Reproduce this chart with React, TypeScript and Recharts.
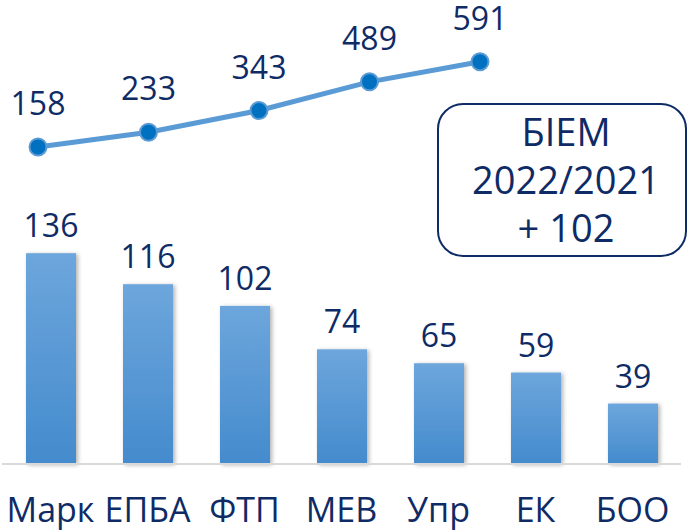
import { BarChart, Bar, XAxis, YAxis, LabelList, LineChart, Line } from 'recharts';

const categories = ['Марк', 'ЕПБА', 'ФТП', 'МЕВ', 'Упр', 'ЕК', 'БОО'];
const barValues = [136, 116, 102, 74, 65, 59, 39];
const lineValues = [158, 233, 343, 489, 591];
const noteLines = ['БІЕМ', '2022/2021', '+ 102'];

const barData = categories.map((name, i) => ({ name, value: barValues[i] }));
const lineData = lineValues.map((value, i) => ({ name: categories[i], value }));

const navy = '#0e2b66';
const font = '"Open Sans", "Noto Sans", sans-serif';

const BarShape = (props: any) => {
  const { x, y, width, height } = props;
  return <rect x={x} y={y} width={width} height={height} fill="url(#barGrad)" filter="url(#barShadow)" />;
};

export default function App() {
  return (
    <div style={{ position: 'absolute', left: 0, top: 0, width: 688, height: 531, background: '#fff', fontFamily: font }}>
      <div style={{ position: 'absolute', left: 0, top: 0 }}>
        <BarChart width={688} height={531} data={barData} margin={{ top: 154, right: 7, bottom: 0, left: 2 }} barSize={50}>
          <defs>
            <linearGradient id="barGrad" x1="0" y1="0" x2="0" y2="1">
              <stop offset="0%" stopColor="#6da6dc" />
              <stop offset="100%" stopColor="#448bcd" />
            </linearGradient>
            <filter id="barShadow" x="-20%" y="-5%" width="140%" height="110%">
              <feDropShadow dx="2" dy="1" stdDeviation="2" floodColor="#000" floodOpacity="0.3" />
            </filter>
          </defs>
          <XAxis
            dataKey="name"
            height={67}
            tickLine={false}
            tickSize={0}
            tickMargin={34}
            axisLine={{ stroke: '#d9d9d9', strokeWidth: 2 }}
            tick={{ fill: navy, fontSize: 34, fontFamily: font }}
            interval={0}
          />
          <YAxis hide domain={[0, 200]} />
          <Bar dataKey="value" shape={BarShape} isAnimationActive={false}>
            <LabelList dataKey="value" position="top" offset={16} fill={navy} fontSize={32} fontFamily={font} />
          </Bar>
        </BarChart>
      </div>
      <div style={{ position: 'absolute', left: 0, top: 0 }}>
        <LineChart width={688} height={531} data={lineData} margin={{ top: 60, right: 208, bottom: 353, left: 38 }}>
          <XAxis dataKey="name" hide />
          <YAxis hide domain={[0, 600]} />
          <Line
            dataKey="value"
            stroke="#5b9bd5"
            strokeWidth={5}
            dot={{ r: 8.5, fill: '#0070c0', stroke: '#5b9bd5', strokeWidth: 2 }}
            isAnimationActive={false}
          >
            <LabelList dataKey="value" position="top" offset={32} fill={navy} fontSize={32} fontFamily={font} />
          </Line>
        </LineChart>
      </div>
      <div
        style={{
          position: 'absolute',
          left: 437,
          top: 103,
          width: 246,
          height: 150,
          border: `2px solid ${navy}`,
          borderRadius: 26,
          boxSizing: 'content-box',
        }}
      />
      <div
        style={{
          position: 'absolute',
          left: 442,
          top: 107,
          width: 248,
          textAlign: 'center',
          color: navy,
          fontSize: 38,
          lineHeight: '48px',
        }}
      >
        {noteLines.map((t) => (
          <div key={t}>{t}</div>
        ))}
      </div>
    </div>
  );
}
